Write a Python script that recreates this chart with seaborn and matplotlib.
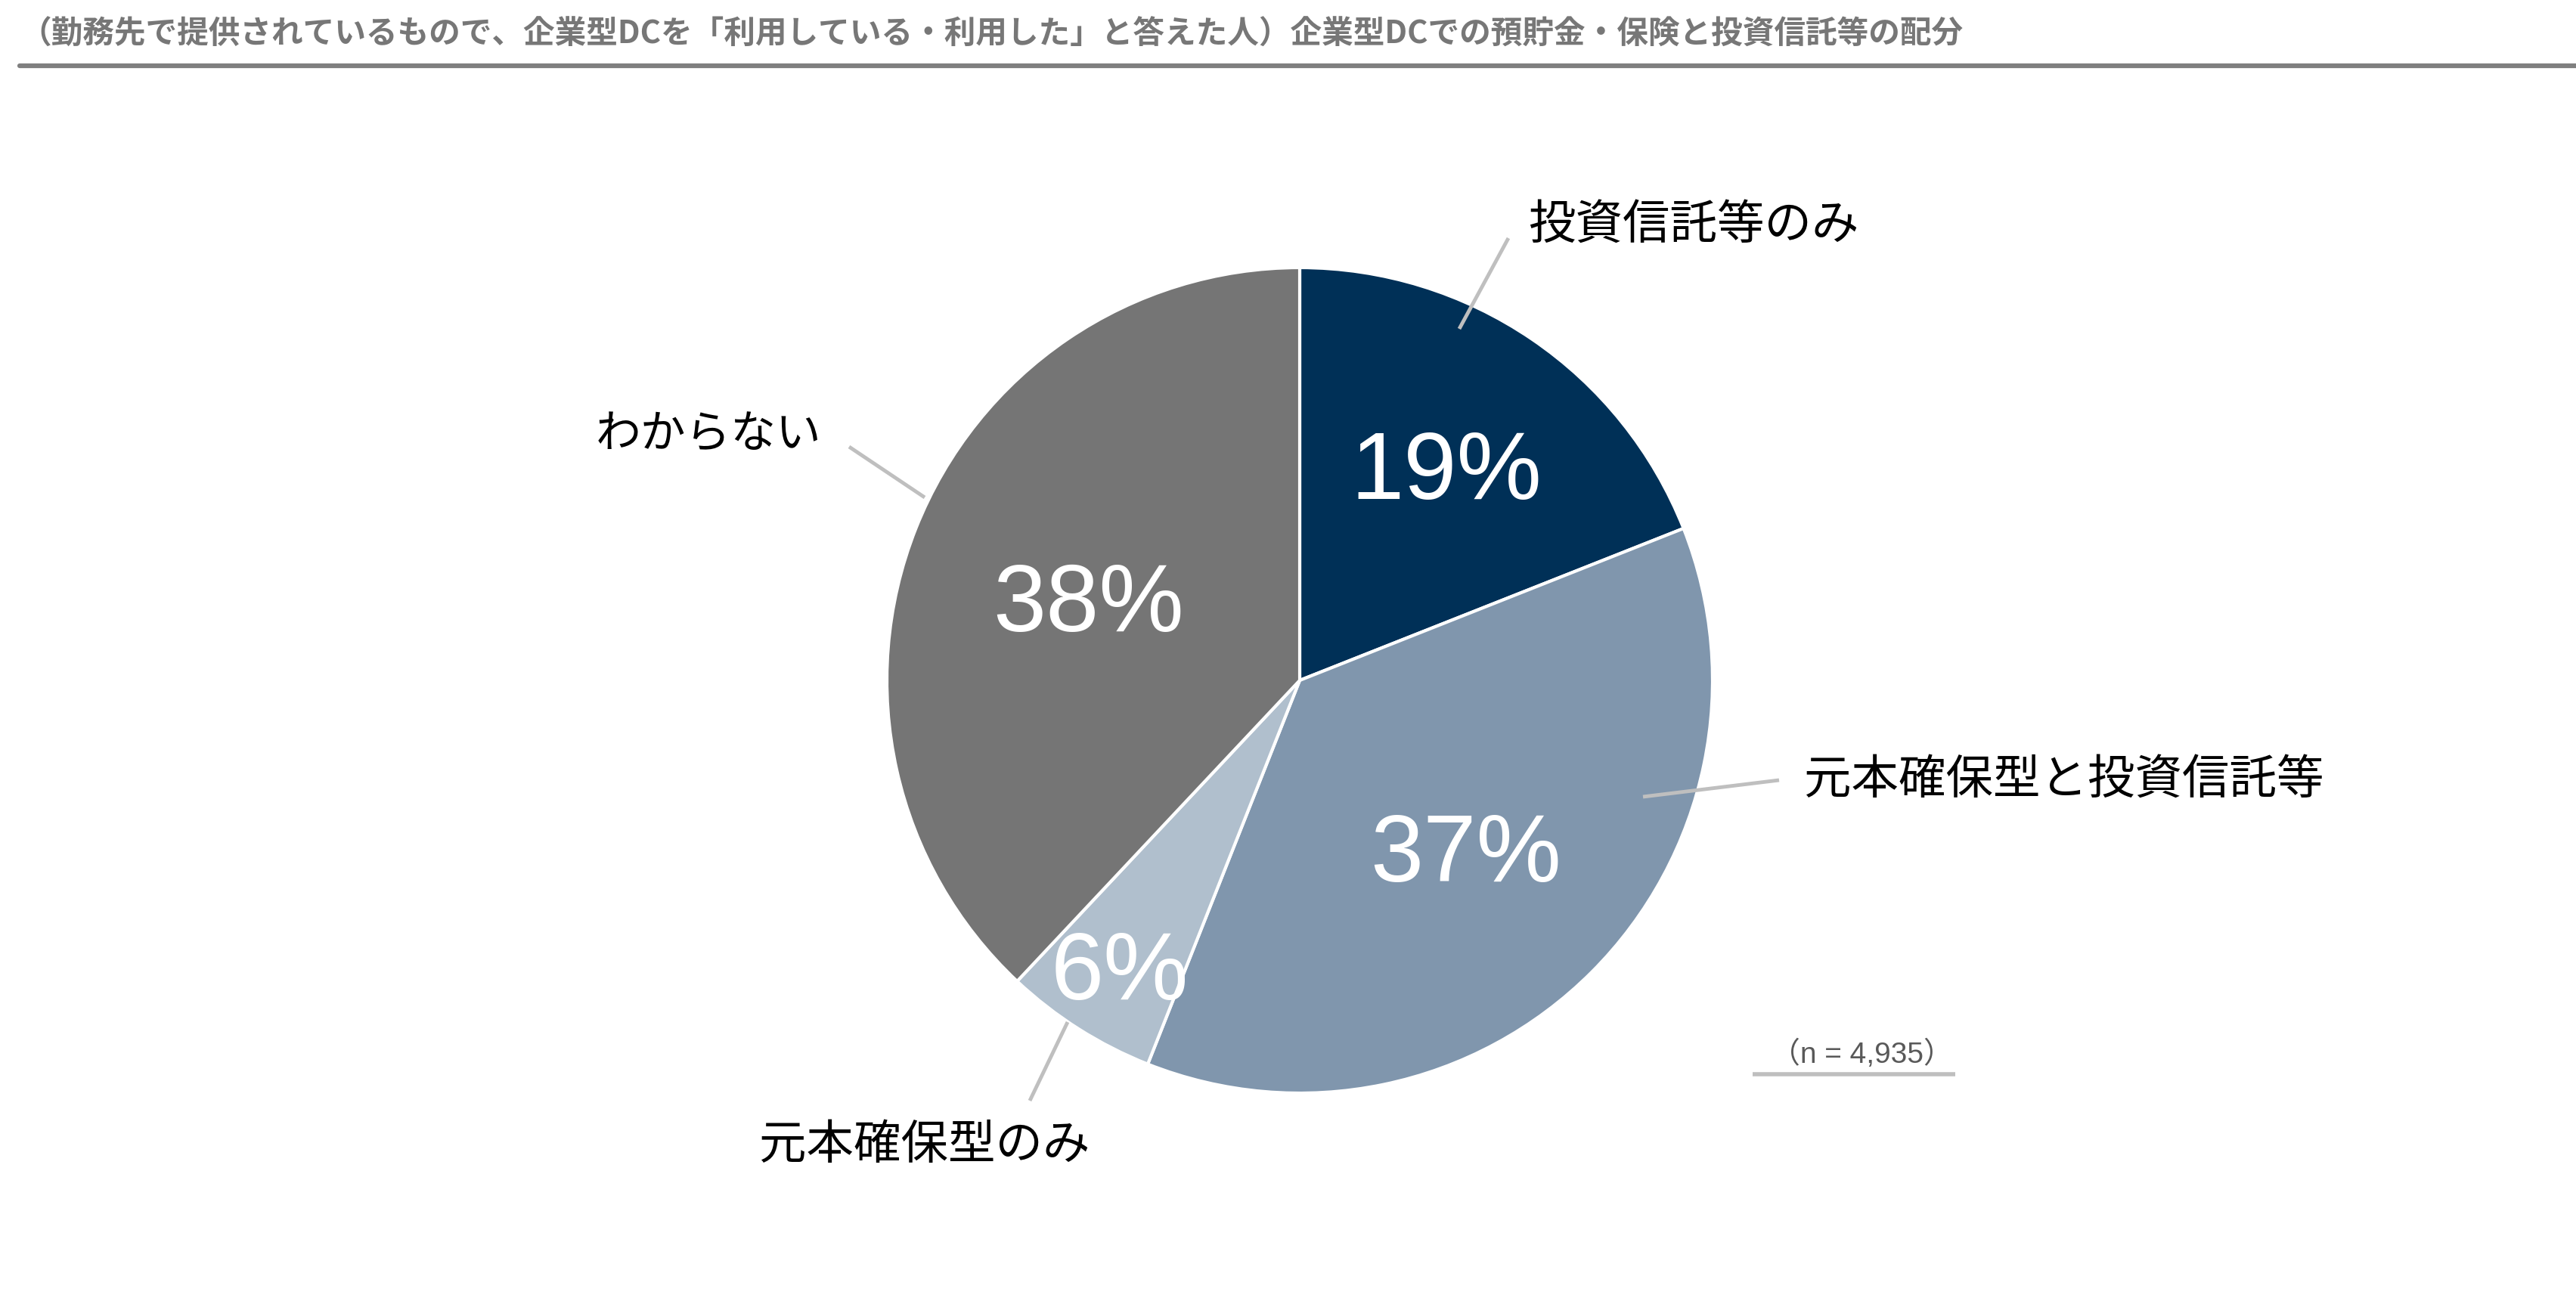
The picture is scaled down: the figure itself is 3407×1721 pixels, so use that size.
import numpy as np
import matplotlib
matplotlib.use("Agg")
import matplotlib.pyplot as plt
import seaborn as sns

# ---- data ----
categories = ["投資信託等のみ", "元本確保型と投資信託等", "元本確保型のみ", "わからない"]
shares = [19, 37, 6, 38]
colors = ["#003057", "#8096AD", "#B0BFCD", "#757575"]
title = "（勤務先で提供されているもので、企業型DCを「利用している・利用した」と答えた人）企業型DCでの預貯金・保険と投資信託等の配分"
n_note = "（n = 4,935）"

sns.set_theme(style="white")
plt.rcParams['font.family'] = ['Noto Sans CJK JP', 'DejaVu Sans']

W, H = 3407, 1721
fig = plt.figure(figsize=(W / 100, H / 100), dpi=100)
ax = fig.add_axes([0, 0, 1, 1])

# pie geometry (pixel space, y measured from bottom)
cx, cy, R = 1719, H - 900, 546
palette = sns.color_palette(colors)
wedges, _ = ax.pie(shares, colors=palette, startangle=90, counterclock=False,
                   center=(cx, cy), radius=R,
                   wedgeprops=dict(edgecolor="white", linewidth=3))
ax.set_xlim(0, W)
ax.set_ylim(0, H)
ax.set_aspect('equal')
ax.axis('off')

# percent labels inside wedges
pct_r = [0.633, 0.57, 0.815, 0.55]
for w, v, fr in zip(wedges, shares, pct_r):
    ang = np.deg2rad((w.theta1 + w.theta2) / 2)
    x = cx + fr * R * np.cos(ang)
    y = cy + fr * R * np.sin(ang)
    ax.text(x, y, f"{v}%", color="white", fontsize=91, ha="center",
            va="center_baseline", family=['Liberation Sans', 'DejaVu Sans'])

# outer labels with leader lines (layout positions in image pixels)
lead = [((1930, 435), (1995, 315)),
        ((2173, 1054), (2353, 1032)),
        ((1412, 1352), (1362, 1456)),
        ((1223, 658), (1123, 591))]
lab_pos = [((2021, 298), "left", 45),
           ((2386, 1032), "left", 45),
           ((1223, 1515), "center", 45),
           ((1086, 576), "right", 43)]
for cat, (p0, p1), ((tx, ty), ha, fs) in zip(categories, lead, lab_pos):
    ax.plot([p0[0], p1[0]], [H - p0[1], H - p1[1]], color="#BFBFBF", lw=3.5,
            solid_capstyle="butt")
    ax.text(tx, H - ty, cat, fontsize=fs, color="black", ha=ha, va="center")

# title and rule
fig.text(26 / W, 1 - 46 / H, title, fontsize=30, fontweight="bold",
         color="#777777", ha="left", va="center")
fig.add_artist(plt.Line2D([26 / W, 1], [1 - 87 / H, 1 - 87 / H],
                          color="#7F7F7F", lw=4.5, transform=fig.transFigure))

# sample size note with underline
ax.text(2462, H - 1395, n_note, fontsize=28, color="#595959", ha="center",
        va="center", family=['Liberation Sans', 'Noto Sans CJK JP'])
ax.plot([2318, 2586], [H - 1421, H - 1421], color="#BFBFBF", lw=4,
        solid_capstyle="butt")

fig.savefig("out.png", dpi=100, facecolor="white")
